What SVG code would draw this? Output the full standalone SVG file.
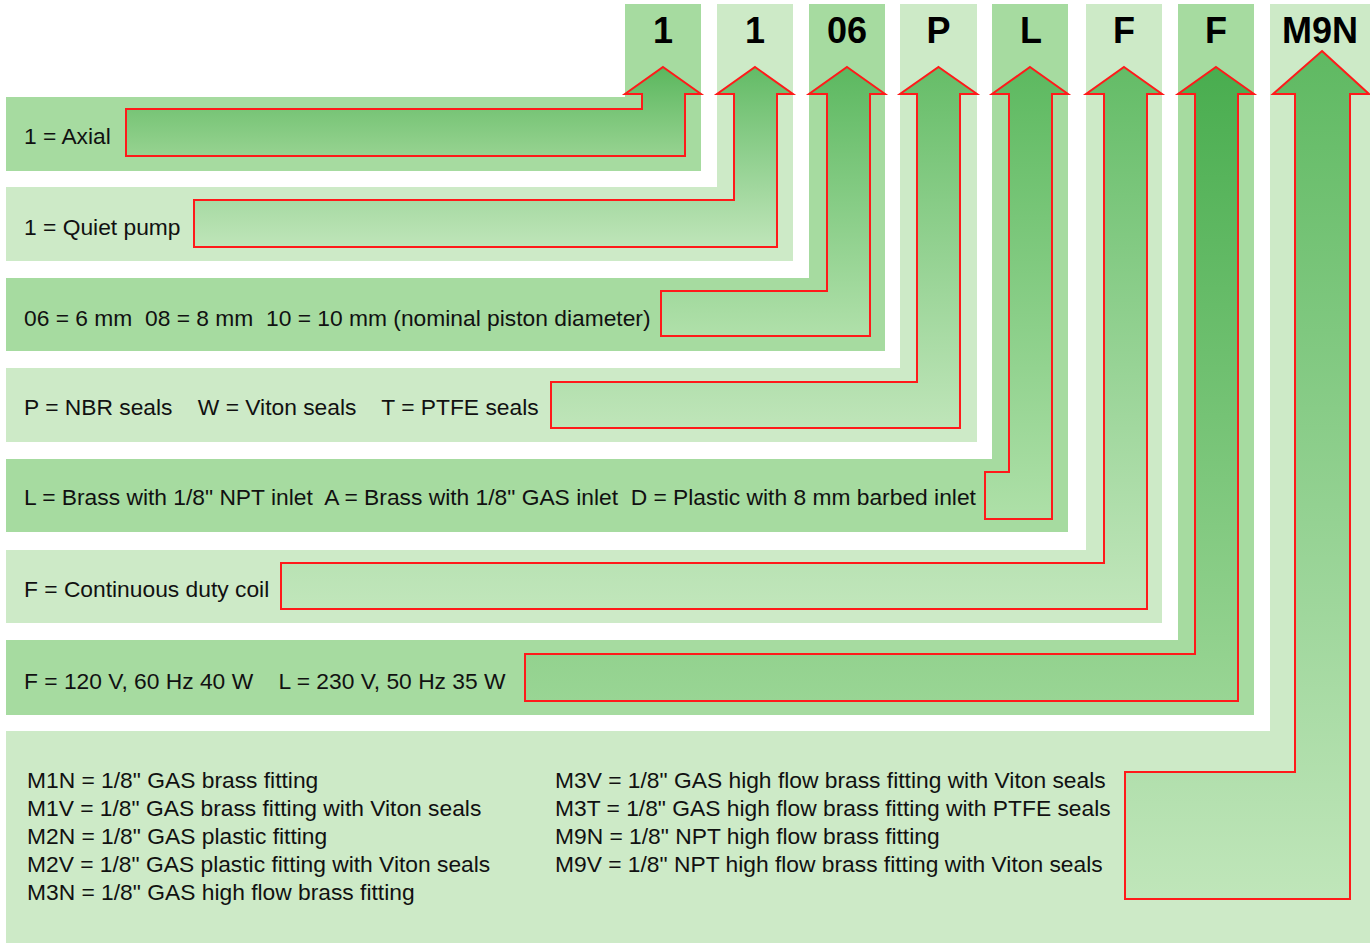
<svg xmlns="http://www.w3.org/2000/svg" width="1370" height="943" viewBox="0 0 1370 943">
<defs>
<style>
.dark{fill:#a6dba0}
.light{fill:#cdeac7}
.lbl{font-family:"Liberation Sans",Arial,Helvetica,sans-serif;font-size:22.8px;fill:#111}
.code{font-family:"Liberation Sans",Arial,Helvetica,sans-serif;font-size:36px;font-weight:bold;fill:#000;text-anchor:middle}
.arrow{stroke:#ff1a1a;stroke-width:2;stroke-linejoin:miter}
</style>
<linearGradient id="g1" x1="0" y1="0" x2="0" y2="1"><stop offset="0" stop-color="#5bb75e"/><stop offset="1" stop-color="#97d391"/></linearGradient>
<linearGradient id="g2" x1="0" y1="0" x2="0" y2="1"><stop offset="0" stop-color="#63bb66"/><stop offset="1" stop-color="#bfe5b9"/></linearGradient>
<linearGradient id="g3" x1="0" y1="0" x2="0" y2="1"><stop offset="0" stop-color="#5cb860"/><stop offset="1" stop-color="#b0e0aa"/></linearGradient>
<linearGradient id="g4" x1="0" y1="0" x2="0" y2="1"><stop offset="0" stop-color="#66bd68"/><stop offset="1" stop-color="#bfe5b9"/></linearGradient>
<linearGradient id="g5" x1="0" y1="0" x2="0" y2="1"><stop offset="0" stop-color="#5db960"/><stop offset="1" stop-color="#aee0a8"/></linearGradient>
<linearGradient id="g6" x1="0" y1="0" x2="0" y2="1"><stop offset="0" stop-color="#64bc67"/><stop offset="1" stop-color="#c1e6bb"/></linearGradient>
<linearGradient id="g7" x1="0" y1="0" x2="0" y2="1"><stop offset="0" stop-color="#49ad4f"/><stop offset="1" stop-color="#99d594"/></linearGradient>
<linearGradient id="g8" x1="0" y1="0" x2="0" y2="1"><stop offset="0" stop-color="#5fb962"/><stop offset="1" stop-color="#c0e6ba"/></linearGradient>
</defs>
<rect width="1370" height="943" fill="#ffffff"/>
<g id="node-axial">
<path class="dark" d="M625,4 H701 V171 H6 V97 H625 Z"/>
<text class="code" x="663" y="43">1</text>
<text class="lbl" x="24" y="144">1 = Axial</text>
</g>
<g id="node-quiet">
<path class="light" d="M717,4 H793 V261 H6 V187 H717 Z"/>
<text class="code" x="755" y="43">1</text>
<text class="lbl" x="24" y="235">1 = Quiet pump</text>
</g>
<g id="node-diameter">
<path class="dark" d="M809,4 H885 V351 H6 V278 H809 Z"/>
<text class="code" x="847" y="43">06</text>
<text class="lbl" x="24" y="326" xml:space="preserve">06 = 6 mm  08 = 8 mm  10 = 10 mm (nominal piston diameter)</text>
</g>
<g id="node-seals">
<path class="light" d="M900,4 H977 V442 H6 V368 H900 Z"/>
<text class="code" x="938.5" y="43">P</text>
<text class="lbl" x="24" y="415" xml:space="preserve">P = NBR seals    W = Viton seals    T = PTFE seals</text>
</g>
<g id="node-body">
<path class="dark" d="M992,4 H1068 V532 H6 V459 H992 Z"/>
<text class="code" x="1031" y="43">L</text>
<text class="lbl" x="24" y="505" xml:space="preserve">L = Brass with 1/8" NPT inlet  A = Brass with 1/8" GAS inlet  D = Plastic with 8 mm barbed inlet</text>
</g>
<g id="node-coil">
<path class="light" d="M1086,4 H1162 V623 H6 V550 H1086 Z"/>
<text class="code" x="1124" y="43">F</text>
<text class="lbl" x="24" y="597">F = Continuous duty coil</text>
</g>
<g id="node-voltage">
<path class="dark" d="M1178,4 H1254 V715 H6 V640 H1178 Z"/>
<text class="code" x="1216" y="43">F</text>
<text class="lbl" x="24" y="689" xml:space="preserve">F = 120 V, 60 Hz 40 W    L = 230 V, 50 Hz 35 W</text>
</g>
<g id="node-fitting">
<path class="light" d="M1270,4 H1370 V943 H6 V731 H1270 Z"/>
<text class="code" x="1320" y="43">M9N</text>
<text class="lbl" x="27" y="788">M1N = 1/8" GAS brass fitting</text>
<text class="lbl" x="27" y="816">M1V = 1/8" GAS brass fitting with Viton seals</text>
<text class="lbl" x="27" y="844">M2N = 1/8" GAS plastic fitting</text>
<text class="lbl" x="27" y="872">M2V = 1/8" GAS plastic fitting with Viton seals</text>
<text class="lbl" x="27" y="900">M3N = 1/8" GAS high flow brass fitting</text>
<text class="lbl" x="555" y="788">M3V = 1/8" GAS high flow brass fitting with Viton seals</text>
<text class="lbl" x="555" y="816">M3T = 1/8" GAS high flow brass fitting with PTFE seals</text>
<text class="lbl" x="555" y="844">M9N = 1/8" NPT high flow brass fitting</text>
<text class="lbl" x="555" y="872">M9V = 1/8" NPT high flow brass fitting with Viton seals</text>
</g>
<g id="connectors">
<path class="arrow" fill="url(#g1)" d="M663,67 L701,94 L685,94 L685,156 L126,156 L126,109 L642,109 L642,94 L625,94 Z"/>
<path class="arrow" fill="url(#g2)" d="M755,67 L793,94 L777,94 L777,247 L194,247 L194,200 L734,200 L734,94 L717,94 Z"/>
<path class="arrow" fill="url(#g3)" d="M847,67 L885,94 L870,94 L870,336 L661,336 L661,291 L827,291 L827,94 L809,94 Z"/>
<path class="arrow" fill="url(#g4)" d="M938.5,67 L977,94 L960,94 L960,428 L551,428 L551,382 L917,382 L917,94 L900,94 Z"/>
<path class="arrow" fill="url(#g5)" d="M1030,67 L1068,94 L1052,94 L1052,519 L985,519 L985,472 L1009,472 L1009,94 L992,94 Z"/>
<path class="arrow" fill="url(#g6)" d="M1124,67 L1162,94 L1147,94 L1147,609 L281,609 L281,563 L1104,563 L1104,94 L1086,94 Z"/>
<path class="arrow" fill="url(#g7)" d="M1216,67 L1254,94 L1238,94 L1238,701 L525,701 L525,654 L1195,654 L1195,94 L1178,94 Z"/>
<path class="arrow" fill="url(#g8)" d="M1322,51 L1369,94 L1350,94 L1350,899 L1125,899 L1125,772 L1295,772 L1295,94 L1273,94 Z"/>
</g>
</svg>
